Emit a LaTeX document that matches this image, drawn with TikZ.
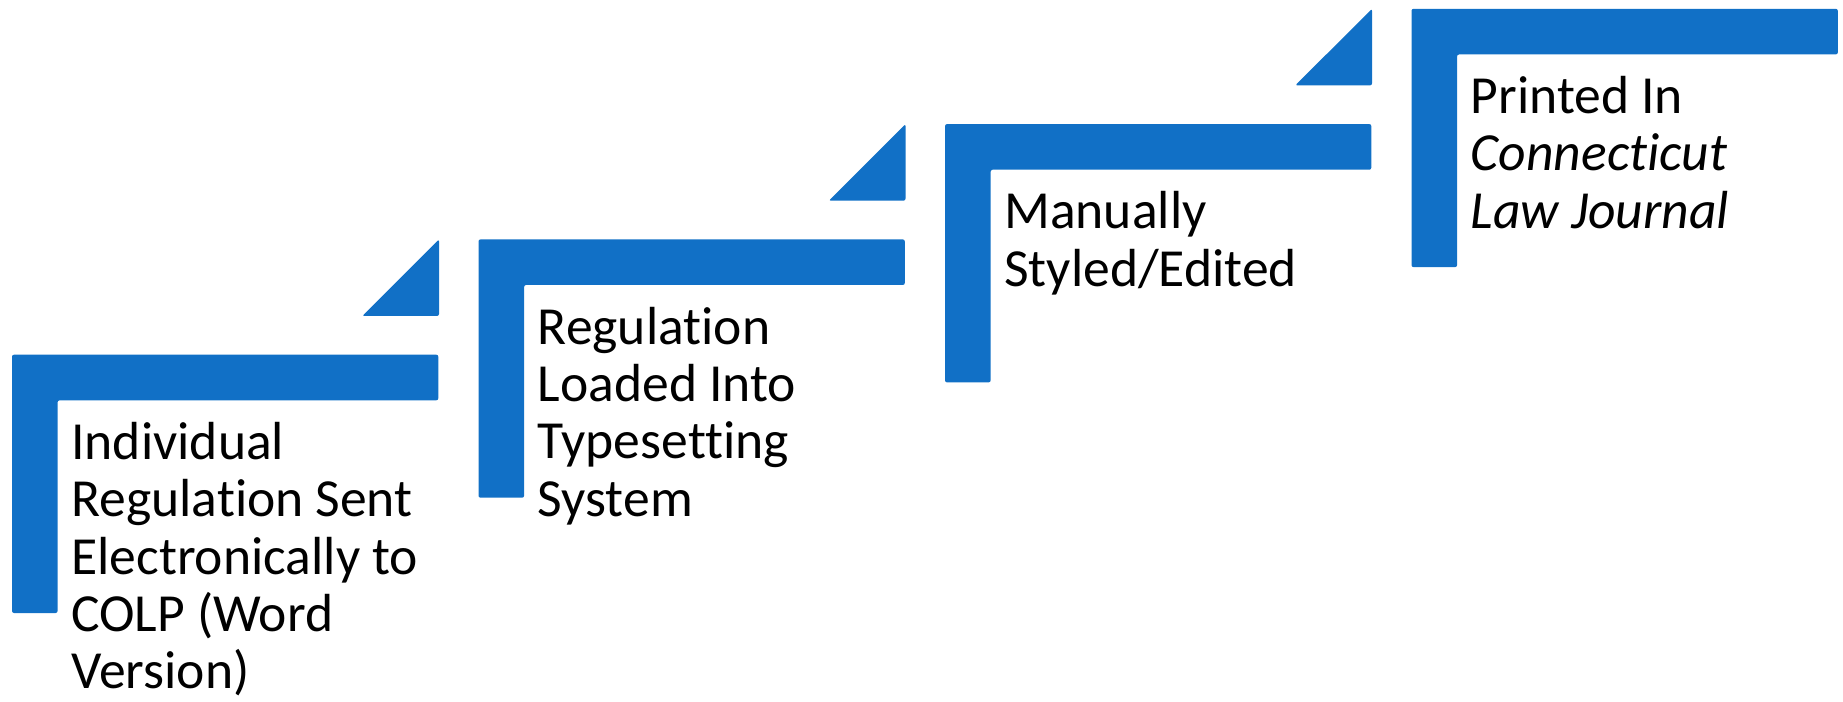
\documentclass[tikz,border=0pt]{standalone}
\usepackage{fontspec}
\setmainfont{Carlito}[Ligatures={NoCommon}]
\usepackage{tikz}
\definecolor{stepblue}{HTML}{1170C6}
\tikzset{
  stepshape/.style={fill=stepblue, rounded corners=0.04cm},
  steptext/.style={anchor=base west, inner sep=0pt, text width=9cm, align=flush left,
    font=\fontsize{30.5}{32.6}\selectfont}
}

\begin{document}
\begin{tikzpicture}[x=0.02cm, y=-0.02cm]
  \useasboundingbox (0,0) rectangle (1843,702);

  % Step 1
  \fill[stepshape] (12,354.7) -- (438.3,354.7) -- (438.3,400.3) -- (57.6,400.3) -- (57.6,613) -- (12,613) -- cycle;
  \fill[stepshape] (439,239.4) -- (439,316) -- (362.3,316) -- cycle;
  \node[steptext] (step1) at (71,459.5) {Individual\\Regulation Sent\\Electronically to\\COLP (Word\\Version)};

  % Step 2
  \fill[stepshape] (478.5,239.4) -- (904.8,239.4) -- (904.8,285) -- (524.1,285) -- (524.1,497.7) -- (478.5,497.7) -- cycle;
  \fill[stepshape] (905.5,124.1) -- (905.5,200.7) -- (828.8,200.7) -- cycle;
  \node[steptext] (step2) at (537.5,344.2) {Regulation\\Loaded Into\\Typesetting\\System};

  % Step 3
  \fill[stepshape] (945,124.1) -- (1371.3,124.1) -- (1371.3,169.7) -- (990.6,169.7) -- (990.6,382.4) -- (945,382.4) -- cycle;
  \fill[stepshape] (1372,8.8) -- (1372,85.4) -- (1295.3,85.4) -- cycle;
  \node[steptext] (step3) at (1004,228.9) {Manually\\Styled/Edited};

  % Step 4
  \fill[stepshape] (1411.5,8.8) -- (1837.8,8.8) -- (1837.8,54.4) -- (1457.1,54.4) -- (1457.1,267.1) -- (1411.5,267.1) -- cycle;
  \node[steptext] (step4) at (1470.5,113.6) {Printed In\\\textit{Connecticut}\\\textit{Law Journal}};
\end{tikzpicture}
\end{document}
